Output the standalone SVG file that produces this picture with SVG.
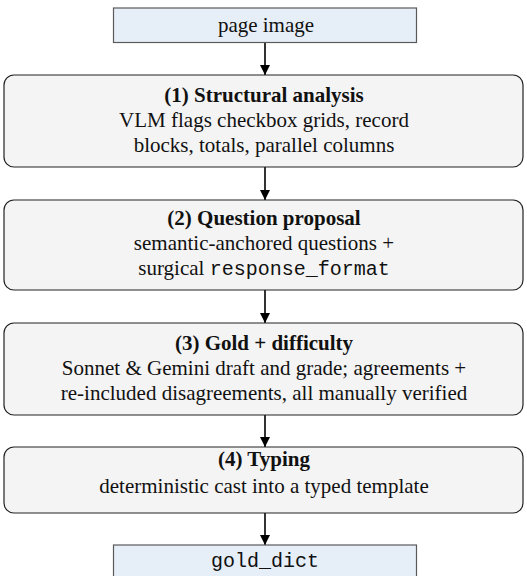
<svg xmlns="http://www.w3.org/2000/svg" width="527" height="576" viewBox="0 0 527 576">
<defs>
<style>
.io{fill:#e6eef7;stroke:#5a5a5a;stroke-width:1.2}
.st{fill:#f4f4f4;stroke:#222;stroke-width:1.2}
text{font-family:"Liberation Serif","Times New Roman",serif;font-size:21px;fill:#111;text-anchor:middle}
.b{font-weight:bold}
.m{font-family:"Liberation Mono","Courier New",monospace;font-size:20px}
.c{stroke:#000;stroke-width:1.6;fill:none}
</style>
<marker id="ah" viewBox="0 0 10 12" refX="10" refY="6" markerWidth="10" markerHeight="12" markerUnits="userSpaceOnUse" orient="auto">
<path d="M0,1 L10,6 L0,11 z" fill="#000"/>
</marker>
</defs>
<g id="connectors">
<line class="c" x1="265" y1="42.7" x2="265" y2="75" marker-end="url(#ah)"/>
<line class="c" x1="265" y1="167" x2="265" y2="200" marker-end="url(#ah)"/>
<line class="c" x1="265" y1="290" x2="265" y2="323" marker-end="url(#ah)"/>
<line class="c" x1="265" y1="415" x2="265" y2="447" marker-end="url(#ah)"/>
<line class="c" x1="265" y1="513" x2="265" y2="545" marker-end="url(#ah)"/>
</g>
<g id="page-image">
<rect class="io" x="113.5" y="8" width="303" height="34.5"/>
<text x="266" y="31.5">page image</text>
</g>
<g id="step1">
<rect class="st" x="4" y="75" width="519" height="92" rx="10"/>
<text class="b" x="264" y="101.5">(1) Structural analysis</text>
<text x="264" y="126.5">VLM flags checkbox grids, record</text>
<text x="264" y="151.5">blocks, totals, parallel columns</text>
</g>
<g id="step2">
<rect class="st" x="4" y="200" width="519" height="90" rx="10"/>
<text class="b" x="264" y="225">(2) Question proposal</text>
<text x="264" y="250">semantic-anchored questions +</text>
<text x="264" y="275">surgical <tspan class="m">response_format</tspan></text>
</g>
<g id="step3">
<rect class="st" x="4" y="323" width="519" height="92" rx="10"/>
<text class="b" x="264" y="350">(3) Gold + difficulty</text>
<text x="264" y="375">Sonnet &amp; Gemini draft and grade; agreements +</text>
<text x="264" y="399.5">re-included disagreements, all manually verified</text>
</g>
<g id="step4">
<rect class="st" x="4" y="447" width="519" height="66" rx="10"/>
<text class="b" x="264" y="466">(4) Typing</text>
<text x="264" y="493">deterministic cast into a typed template</text>
</g>
<g id="gold-dict">
<rect class="io" x="113.5" y="545" width="303" height="40"/>
<text class="m" x="265" y="567">gold_dict</text>
</g>
</svg>
